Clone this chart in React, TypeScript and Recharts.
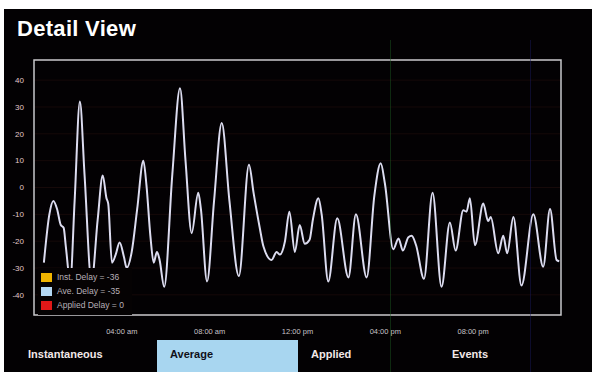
import React from "react";
import {
  LineChart,
  Line,
  XAxis,
  YAxis,
  CartesianGrid,
  ReferenceArea,
} from "recharts";

// time of day in hours
const hours = [
  0.45, 0.7, 0.88, 1.05, 1.22, 1.35, 1.45, 1.65, 1.85, 2.09, 2.3, 2.62, 2.9,
  3.13, 3.3, 3.38, 3.55, 3.72, 3.9, 4.1, 4.22, 4.45, 4.7, 4.98, 5.12, 5.3, 5.45,
  5.6, 5.72, 5.93, 6.3, 6.65, 6.9, 7.18, 7.48, 7.6, 7.88, 8.2, 8.55, 8.9, 9.33,
  9.79, 10.0, 10.28, 10.45, 10.82, 11.05, 11.2, 11.43, 11.63, 11.88, 12.1,
  12.33, 12.55, 12.7, 12.95, 13.1, 13.4, 13.81, 14.32, 14.66, 15.15, 15.5,
  15.79, 15.98, 16.36, 16.6, 16.8, 17.05, 17.2, 17.4, 17.76, 18.15, 18.56,
  18.94, 19.2, 19.55, 19.7, 19.85, 20.08, 20.46, 20.68, 20.8, 21.14, 21.37,
  21.55, 21.83, 22.2, 22.74, 23.19, 23.5, 23.8, 23.92,
];

// average delay at each of those times
const aveDelay = [
  -28, -10, -5, -8, -14, -15, -22, -35, -5, 32, 5, -35, -12, 4.5, -4, -6, -28,
  -25, -20.5, -26, -30, -24, -8, 10, 1, -18, -28, -24, -27, -37, 5, 37, 10, -17,
  -2, -8, -35, -5, 24, -5, -33, 8.5, -2, -15, -22, -27, -24, -25, -20, -9, -24,
  -14, -21, -19.5, -12, -4, -10, -35, -11.5, -33.5, -10, -33.5, -3, 9, 1.5,
  -23, -19, -23.5, -18.5, -18, -21.5, -34, -2, -37, -13, -23.5, -8.5, -9, -4,
  -21.5, -6, -12.5, -11, -24.5, -18, -24.5, -11, -36.5, -10, -29.5, -8, -27,
  -27.5,
];

const xTicks = [4, 8, 12, 16, 20];
const xTickLabels = ["04:00 am", "08:00 am", "12:00 pm", "04:00 pm", "08:00 pm"];
const yTicks = [-40, -30, -20, -10, 0, 10, 20, 30, 40];

const legendItems = [
  { label: "Inst. Delay = -36", color: "#f0b400" },
  { label: "Ave. Delay = -35", color: "#b4d8f4" },
  { label: "Applied Delay = 0", color: "#e01818" },
];

const tabs = ["Instantaneous", "Average", "Applied", "Events"];
const tabLeft = [28, 170, 311, 452];

const data = hours.map((h, i) => ({ h, ave: aveDelay[i] }));

const font = "'Liberation Sans', Arial, sans-serif";

export default function App() {
  return (
    <div
      style={{
        position: "absolute",
        left: 0,
        top: 0,
        width: 595,
        height: 372,
        background: "#fff",
        overflow: "hidden",
        fontFamily: font,
      }}
    >
      {/* black panel */}
      <div
        style={{
          position: "absolute",
          left: 4,
          top: 9,
          width: 588,
          height: 363,
          background: "#030103",
        }}
      />
      <div
        style={{
          position: "absolute",
          left: 17,
          top: 16,
          color: "#fff",
          fontWeight: "bold",
          fontSize: 22,
          letterSpacing: 0.3,
        }}
      >
        Detail View
      </div>

      <div style={{ position: "absolute", left: 0, top: 0 }}>
        <LineChart
          width={595}
          height={372}
          data={data}
          margin={{ top: 60, right: 34, bottom: 0, left: 0 }}
        >
          <CartesianGrid vertical={false} stroke="#160909" strokeWidth={1} />
          <XAxis
            dataKey="h"
            type="number"
            domain={[0, 24]}
            ticks={xTicks}
            tickFormatter={(v: number) => xTickLabels[xTicks.indexOf(v)]}
            height={57}
            axisLine={false}
            tickLine={false}
            tickMargin={8}
            tick={{ fill: "#c8c4c8", fontSize: 7.5, fontFamily: font }}
          />
          <YAxis
            type="number"
            domain={[-47.5, 47.5]}
            ticks={yTicks}
            width={34}
            axisLine={false}
            tickLine={false}
            tickMargin={4}
            tick={{ fill: "#e2c8c8", fontSize: 8, fontFamily: font }}
          />
          <ReferenceArea
            x1={0}
            x2={24}
            y1={-47.5}
            y2={47.5}
            fill="none"
            stroke="#c8c8cc"
            strokeWidth={1.5}
            ifOverflow="extendDomain"
          />
          <Line
            type="monotone"
            dataKey="ave"
            stroke="#dcdcf0"
            strokeWidth={2}
            dot={false}
            isAnimationActive={false}
          />
        </LineChart>
      </div>

      {/* legend box */}
      <div
        style={{
          position: "absolute",
          left: 38,
          top: 268,
          width: 94,
          height: 45,
          background: "#050203",
          paddingTop: 2,
        }}
      >
        {legendItems.map((it) => (
          <div
            key={it.label}
            style={{
              display: "flex",
              alignItems: "center",
              height: 14,
              fontSize: 8.5,
              color: "#b8b0b8",
            }}
          >
            <span
              style={{
                display: "inline-block",
                width: 11,
                height: 9,
                background: it.color,
                marginLeft: 3,
                marginRight: 5,
              }}
            />
            {it.label}
          </div>
        ))}
      </div>

      {/* screen artefact lines */}
      <div
        style={{
          position: "absolute",
          left: 390,
          top: 40,
          width: 1,
          height: 332,
          background: "#1c5a22",
          opacity: 0.45,
        }}
      />
      <div
        style={{
          position: "absolute",
          left: 530,
          top: 40,
          width: 1,
          height: 332,
          background: "#1a1a60",
          opacity: 0.45,
        }}
      />

      {/* tabs */}
      <div
        style={{
          position: "absolute",
          left: 157,
          top: 340,
          width: 141,
          height: 32,
          background: "#a8d6f0",
        }}
      />
      {tabs.map((t, i) => (
        <div
          key={t}
          style={{
            position: "absolute",
            left: tabLeft[i],
            top: 348,
            fontSize: 11,
            fontWeight: "bold",
            color: t === "Average" ? "#101018" : "#f2e8e8",
          }}
        >
          {t}
        </div>
      ))}
    </div>
  );
}
